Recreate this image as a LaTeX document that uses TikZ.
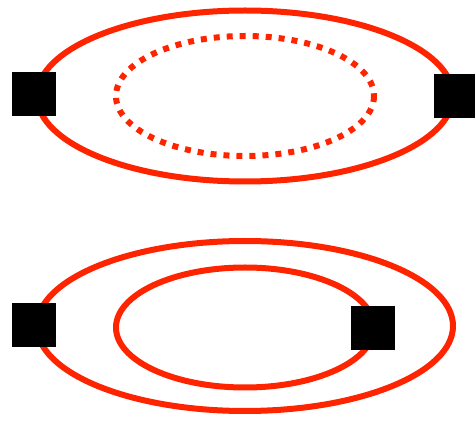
\documentclass[tikz,border=0pt]{standalone}
\begin{document}
\begin{tikzpicture}[x=1pt,y=-1pt,
  orbit/.style={draw={rgb,255:red,255;green,36;blue,0}, line width=6pt},
  dottedorbit/.style={orbit, dash pattern=on 6pt off 7pt},
  blk/.style={fill=black, draw=none, minimum width=44pt, minimum height=44pt, inner sep=0pt, outer sep=0pt}]
\useasboundingbox (0,0) rectangle (475,422);
% top
\draw[orbit] (245,96) ellipse [x radius=208, y radius=85.5];
\draw[dottedorbit] (245,96) ellipse [x radius=129, y radius=60];
\node[blk] (tl) at (34,94) {};
\node[blk] (tr) at (456,96.5) {};
% bottom
\draw[orbit] (245,326) ellipse [x radius=208, y radius=85];
\draw[orbit] (245,327.5) ellipse [x radius=129, y radius=60];
\node[blk] (bl) at (34,325) {};
\node[blk] (br) at (373,328) {};
\end{tikzpicture}
\end{document}
